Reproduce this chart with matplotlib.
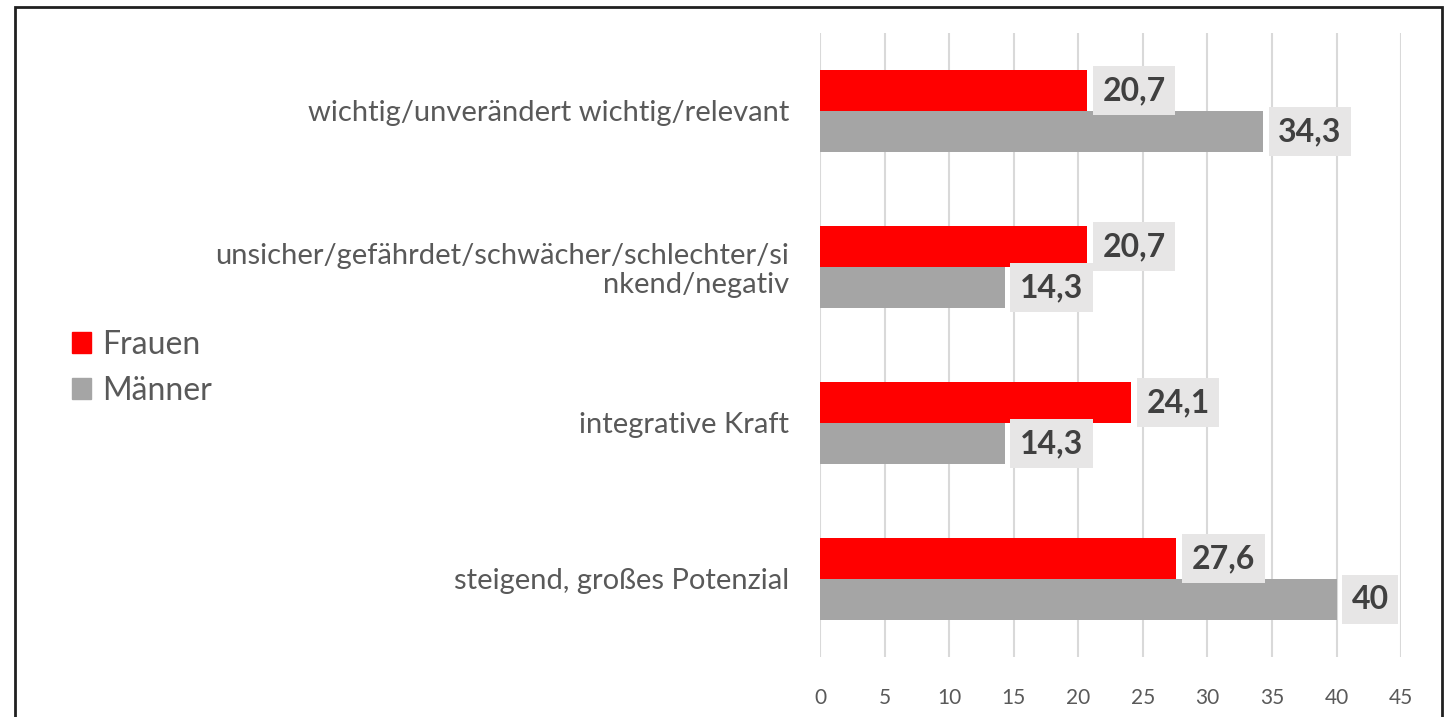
import matplotlib.pyplot as plt
from matplotlib.patches import Rectangle, Patch
import numpy as np

# Daten
categories = [
    'wichtig/unverändert wichtig/relevant',
    'unsicher/gefährdet/schwächer/schlechter/si\nnkend/negativ',
    'integrative Kraft',
    'steigend, großes Potenzial',
]
frauen = [20.7, 20.7, 24.1, 27.6]
maenner = [34.3, 14.3, 14.3, 40]
x_ticks = [0, 5, 10, 15, 20, 25, 30, 35, 40, 45]

plt.rcParams['font.family'] = ['Lato', 'DejaVu Sans']

fig = plt.figure(figsize=(14.45, 7.17), dpi=100)
ax = fig.add_axes([0.5675, 0.0837, 0.4021, 0.8703])

y = np.arange(len(categories))
h = 0.263
bars_f = ax.barh(y - h / 2, frauen, height=h, color='#ff0000', zorder=3)
bars_m = ax.barh(y + h / 2, maenner, height=h, color='#a5a5a5', zorder=3)


def fmt(v):
    return (f'{v:g}').replace('.', ',')


box = dict(boxstyle='square,pad=0.3', facecolor='#e7e6e6', edgecolor='none')
for bars, vals in [(bars_f, frauen), (bars_m, maenner)]:
    ax.bar_label(bars, labels=[fmt(v) for v in vals], padding=11,
                 fontsize=23, fontweight='bold', color='#404040', bbox=box)

ax.set_xlim(0, 45)
ax.set_ylim(len(categories) - 0.5, -0.5)
ax.set_xticks(x_ticks)
ax.set_yticks(y)
ax.set_yticklabels(categories, fontsize=21, color='#595959', linespacing=1.12)
ax.tick_params(axis='y', length=0, pad=22)
ax.tick_params(axis='x', length=0, pad=22, labelsize=15, labelcolor='#595959')
ax.grid(axis='x', color='#d9d9d9', linewidth=1.5, zorder=0)
for s in ax.spines.values():
    s.set_visible(False)

handles = [Patch(color='#ff0000', label='Frauen'), Patch(color='#a5a5a5', label='Männer')]
leg = fig.legend(handles=handles, loc='center left', bbox_to_anchor=(0.030, 0.487),
                 frameon=False, fontsize=23, handlelength=0.6, handleheight=0.6,
                 handletextpad=0.35, labelspacing=0.5)
for t in leg.get_texts():
    t.set_color('#595959')

# Rahmen
fig.add_artist(Rectangle((0.0104, -0.05), 0.9875, 1.04, transform=fig.transFigure,
                         fill=False, edgecolor='#202020', linewidth=2))

fig.savefig('out.png', dpi=100)
